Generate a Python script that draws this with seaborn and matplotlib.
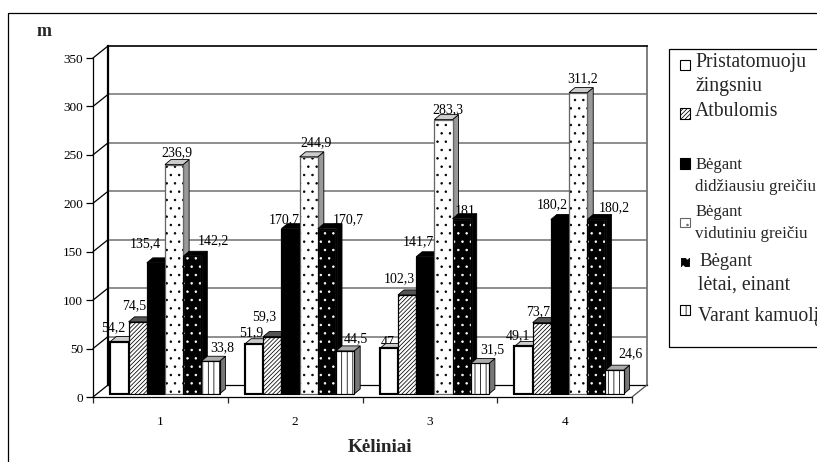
import numpy as np
import pandas as pd
import matplotlib
matplotlib.use("Agg")
import matplotlib.pyplot as plt
from matplotlib.lines import Line2D
from matplotlib.patches import Polygon, Rectangle
from matplotlib.transforms import Affine2D, IdentityTransform
import seaborn as sns

# ── Data ──────────────────────────────────────────────────────────────────────
KELINIAI = ["1", "2", "3", "4"]
VEIKLOS = ["Pristatomuoju", "Atbulomis", "Didziausiu", "Vidutiniu", "Letai", "Kamuolys"]
PRISTATOMUOJU = [54.2, 51.9, 47.0, 49.1]
ATBULOMIS = [74.5, 59.3, 102.3, 73.7]
DIDZIAUSIU = [135.4, 170.7, 141.7, 180.2]
VIDUTINIU = [236.9, 244.9, 283.3, 311.2]
LETAI = [142.2, 170.7, 181.0, 180.2]
KAMUOLYS = [33.8, 44.5, 31.5, 24.6]
Y_TICKS = [0, 50, 100, 150, 200, 250, 300, 350]

# the labels the way they are printed (some are half hidden behind bars)
LABELS = [["54,2", "51,9", "47,", "49,1"],
          ["74,5", "59,3", "102,3", "73,7"],
          ["135,4", "170,7", "141,7", "180,2"],
          ["236,9", "244,9", "283,3", "311,2"],
          ["142,2", "170,7", "181", "180,2"],
          ["33,8", "44,5", "31,5", "24,6"]]
# hand placed label shifts in pixels, from the top centre of each bar
LABEL_DX = [[-6, -3, 0, -6], [-3, -8, -8, -3.5], [-10.5, -6, -7, -7.5],
            [3, 7, 4, 4], [21, 21, 4, 18], [12, 11, 12.5, 16]]
LABEL_DY = [[-13.5, -11, -6.5, -11], [-16, -20, -16, -11], [-19, -9, -15, -14.5],
            [-11.5, -14, -10, -13.6], [-16, -9, -7, -11.5], [-14, -12, -13.5, -16]]

# ── Style ─────────────────────────────────────────────────────────────────────
W, H = 817, 462
SERIF = "Liberation Serif"
sns.set_theme(style="white")
plt.rcParams["font.family"] = SERIF
plt.rcParams["hatch.linewidth"] = 0.55
plt.rcParams["axes.edgecolor"] = "black"

FACE = ["white", "white", "black", "white", "black", "white"]
HATCH = [None, "////////", None, "..", "..", "|||"]
HATCH_COLOR = ["black", "black", "black", "black", "white", "black"]
OUTLINE = ["black", "black", "black", "#666666", "black", "black"]
TOP = ["#cccccc", "#555555", "black", "#cccccc", "black", "#aaaaaa"]
SIDE = ["#999999", "#555555", "black", "#999999", "black", "#777777"]
EDGE_W = [1.5, 0.8, 0.8, 0.8, 0.8, 0.8]
DEPTH_X, DEPTH_Y = 6, 5

px = Affine2D().scale(1, -1).translate(0, H)  # picture pixels, y down


def axes_at(fig, left, top, right, bottom):
    return fig.add_axes([left / W, 1 - bottom / H, (right - left) / W, (bottom - top) / H])


def pt(n):
    return n * 0.72


fig = plt.figure(figsize=(W / 100, H / 100), dpi=100, facecolor="white")

# ── Back wall ─────────────────────────────────────────────────────────────────
wall = axes_at(fig, 108, 46, 647, 385)
wall.set_xlim(-0.5, 3.5)
wall.set_ylim(0, 350)
wall.set_yticks(Y_TICKS[1:-1])
wall.set_xticks([])
wall.tick_params(left=False, labelleft=False)
wall.grid(axis="y", color="#707070", linewidth=1.1)
wall.spines["left"].set_linewidth(1.6)
wall.spines["top"].set_linewidth(1.2)
wall.spines["right"].set_color("#707070")
wall.spines["bottom"].set_linewidth(0.9)

# ── Front plane with the real axis ────────────────────────────────────────────
ax = axes_at(fig, 93, 58, 632, 397)
ax.patch.set_alpha(0)
ax.set_xlim(-0.5, 3.5)
ax.set_ylim(0, 350)
ax.set_yticks(Y_TICKS)
ax.set_xticks(np.arange(-0.5, 4))
ax.set_xticks(np.arange(4), minor=True)
ax.set_xticklabels([])
ax.set_xticklabels(KELINIAI, minor=True, fontsize=9.5)
ax.tick_params(axis="y", left=True, length=pt(7), width=0.9, pad=pt(3), labelsize=9.5, colors="black")
ax.tick_params(axis="x", which="major", bottom=True, length=pt(6), width=0.9)
ax.tick_params(axis="x", which="minor", bottom=False, pad=pt(13), colors="black")
sns.despine(ax=ax, top=True, right=True)
for s in ["left", "bottom"]:
    ax.spines[s].set_linewidth(0.9)

# depth lines from the front axis to the wall
fig.canvas.draw()
for t in Y_TICKS:
    x0, y0 = ax.transData.transform((-0.5, t))
    fig.add_artist(Line2D([x0, x0 + 15], [y0, y0 + 12], color="black", lw=0.9,
                          transform=IdentityTransform()))
x0, y0 = ax.transData.transform((3.5, 0))
fig.add_artist(Line2D([x0, x0 + 15], [y0, y0 + 12], color="#505050", lw=0.9,
                      transform=IdentityTransform()))

# ── Bars (seaborn), shifted a little into the floor ───────────────────────────
bars_ax = axes_at(fig, 97.6, 55, 636.4, 394)
bars_ax.patch.set_alpha(0)
df = pd.DataFrame({
    "kelinys": KELINIAI * 6,
    "veikla": np.repeat(VEIKLOS, 4),
    "m": PRISTATOMUOJU + ATBULOMIS + DIDZIAUSIU + VIDUTINIU + LETAI + KAMUOLYS,
})
sns.barplot(data=df, x="kelinys", y="m", hue="veikla", order=KELINIAI, hue_order=VEIKLOS,
            width=0.81, gap=0, palette=dict(zip(VEIKLOS, FACE)), saturation=1,
            edgecolor="black", linewidth=0.8, legend=False, ax=bars_ax)
bars_ax.set_xlim(-0.5, 3.5)
bars_ax.set_ylim(0, 350)
bars_ax.axis("off")
fig.canvas.draw()

for i, cont in enumerate(bars_ax.containers):
    z = 3 + i
    for j, p in enumerate(cont.patches):
        p.set_zorder(z)
        p.set_linewidth(EDGE_W[i])
        if HATCH[i]:
            p.set_hatch(HATCH[i])
            p.set_edgecolor(HATCH_COLOR[i])  # hatch takes the edge colour
        (xa, ya), (xb, yb) = bars_ax.transData.transform(
            [(p.get_x(), 0), (p.get_x() + p.get_width(), p.get_height())])
        top = [(xa, yb), (xb, yb), (xb + DEPTH_X, yb + DEPTH_Y), (xa + DEPTH_X, yb + DEPTH_Y)]
        side = [(xb, ya), (xb, yb), (xb + DEPTH_X, yb + DEPTH_Y), (xb + DEPTH_X, ya + DEPTH_Y)]
        for pts, col in ((side, SIDE[i]), (top, TOP[i])):
            bars_ax.add_patch(Polygon(pts, closed=True, facecolor=col, edgecolor="black", lw=0.6,
                                      transform=IdentityTransform(), clip_on=False, zorder=z - 0.1))
        # outline on top, the hatch colour replaced the edge
        bars_ax.add_patch(Polygon([(xa, ya), (xb, ya), (xb, yb), (xa, yb)], closed=True, fill=False,
                                  edgecolor=OUTLINE[i], lw=EDGE_W[i], transform=IdentityTransform(),
                                  clip_on=False, zorder=z + 0.1))
        bars_ax.annotate(LABELS[i][j], xy=(p.get_x() + p.get_width() / 2, p.get_height()),
                         xytext=(pt(LABEL_DX[i][j]), -pt(LABEL_DY[i][j])),
                         textcoords="offset points", ha="center", va="center",
                         fontsize=10, color="black", zorder=z - 0.5, annotation_clip=False)

# ── Texts and outer frame ─────────────────────────────────────────────────────
fig.add_artist(Rectangle((8, 13), W, H, fill=False, edgecolor="black", lw=0.9, transform=px))
fig.text(44, 31, "m", transform=px, ha="center", va="center", fontsize=13, fontweight="bold")
fig.text(379.5, 447, "Kėliniai", transform=px, ha="center", va="center", fontsize=13.8, fontweight="bold")

# ── Legend, drawn by hand because the spacing is uneven ───────────────────────
LEGEND_LINES = [("Pristatomuoju", 695, 62, 14.2), ("žingsniu", 695, 87, 14.2), ("Atbulomis", 695, 112, 14.2),
                ("Bėgant", 696, 165, 12), ("didžiausiu greičiu", 695, 187, 12.2),
                ("Bėgant", 696, 212, 12), ("vidutiniu greičiu", 695, 234, 12.2),
                ("Bėgant", 699, 262, 13.5), ("lėtai, einant", 698, 285, 14.2),
                ("Varant kamuolį", 698, 316, 14.2)]
SWATCH_Y = [60, 108, 158, 218, 257, 305]
SWATCH_H = [10, 11, 11, 9, 10, 10]

fig.add_artist(Rectangle((669, 49), 200, 298, facecolor="white", edgecolor="black", lw=0.9, transform=px))
for txt, x, y, size in LEGEND_LINES:
    fig.text(x, y, txt, transform=px, ha="left", va="center", fontsize=size)
for i, (sy, sh) in enumerate(zip(SWATCH_Y, SWATCH_H)):
    r = Rectangle((680, sy), 10, sh, facecolor=FACE[i], edgecolor=OUTLINE[i] if i != 4 else "white",
                  lw=0.8, transform=px)
    if HATCH[i]:
        r.set_hatch(HATCH[i])
    fig.add_artist(r)

fig.savefig("out.png", dpi=100)
